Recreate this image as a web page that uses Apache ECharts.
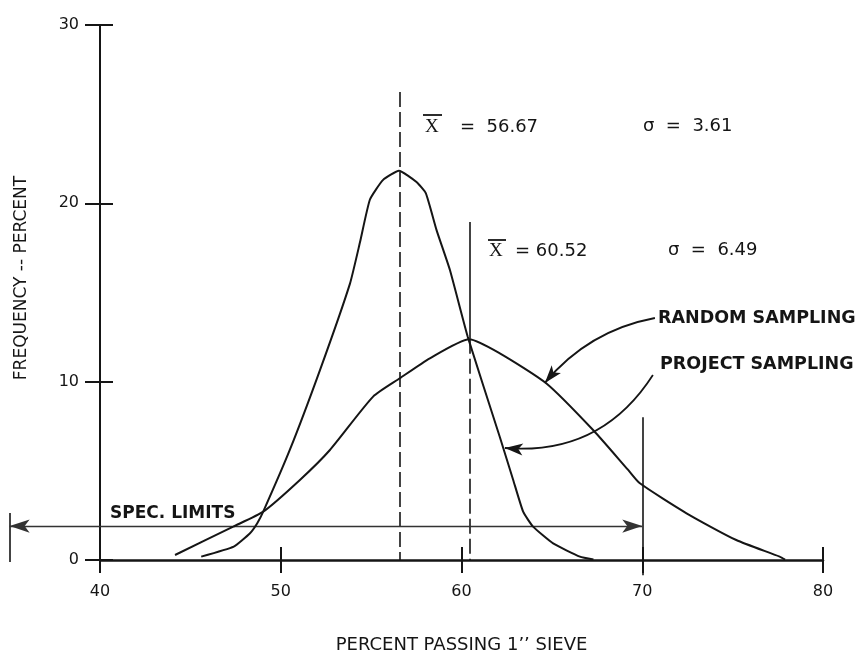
<!DOCTYPE html>
<html>
<head>
<meta charset="utf-8">
<script src="https://cdn.jsdelivr.net/npm/echarts@6/dist/echarts.min.js"></script>
<style>
  html, body { margin: 0; padding: 0; background: #fff; }
  #chart { width: 863px; height: 654px; }
</style>
</head>
<body>
<div id="chart"></div>
<script>
// ---- data ----
const xRange = [40, 80];
const yRange = [0, 30];

// project sampling (narrow curve)
const projectSampling = [
  [45.6, 0.19], [47.4, 0.75], [48.3, 1.5], [48.7, 2.06], [49.03, 2.71],
  [50.5, 6.17], [52.17, 10.65], [53.83, 15.5], [54.38, 17.8], [54.93, 20.2],
  [55.65, 21.3], [56.54, 21.83], [57.51, 21.2], [58.03, 20.56], [58.62, 18.5],
  [59.36, 16.26], [60.35, 12.5], [62.12, 6.9], [62.86, 4.49], [63.41, 2.71],
  [63.96, 1.87], [65.07, 0.93], [66.55, 0.19], [67.3, 0.03]
];

// random sampling (wide curve)
const randomSampling = [
  [44.15, 0.28], [47.37, 1.87], [49.03, 2.71], [51.06, 4.49], [52.72, 6.17],
  [55.11, 9.16], [56.59, 10.19], [58.25, 11.31], [60.43, 12.38], [62.12, 11.59],
  [64.7, 9.9], [67.28, 7.29], [69.22, 5.05], [69.87, 4.3], [72.45, 2.62],
  [75.2, 1.12], [77.6, 0.19], [77.9, 0.02]
];

const meanProject = 56.6;
const meanRandom = 60.43;
const specLimits = [35, 70];
const specY = 1.9;

const ink = "#151515";
const font = '"DejaVu Sans", sans-serif';

const chart = echarts.init(document.getElementById("chart"));

function label(text, x, y, size, weight) {
  return {
    type: "text", x: x, y: y, silent: true,
    style: {
      text: text, fill: ink,
      font: (weight || "normal") + " " + size + "px " + font,
      textAlign: "left", textVerticalAlign: "middle",
      align: "left", verticalAlign: "middle"
    }
  };
}
function bar(x1, x2, y) {
  return { type: "line", silent: true, shape: { x1: x1, y1: y, x2: x2, y2: y },
           style: { stroke: ink, lineWidth: 1.8 } };
}
function xbar(x, y) {
  return {
    type: "text", x: x, y: y, silent: true,
    style: { text: "X", fill: ink, font: '19px "Liberation Serif", serif',
             textAlign: "left", textVerticalAlign: "middle", align: "left", verticalAlign: "middle" }
  };
}

const option = {
  animation: false,
  backgroundColor: "#fff",
  grid: { left: 100, right: 40, top: 25, bottom: 94, containLabel: false, outerBoundsMode: "none" },
  xAxis: [
    {
      type: "value", min: xRange[0], max: xRange[1], interval: 10, position: "bottom",
      axisLine: { lineStyle: { color: ink, width: 2.5 } },
      axisTick: { length: 13, lineStyle: { color: ink, width: 2 } },
      axisLabel: { margin: 24, color: ink, fontSize: 16, fontFamily: font },
      splitLine: { show: false },
      name: "PERCENT PASSING 1’’ SIEVE", nameLocation: "middle", nameGap: 76,
      nameTextStyle: { color: ink, fontSize: 18, fontFamily: font }
    },
    {
      type: "value", min: xRange[0], max: xRange[1], interval: 10, position: "bottom",
      axisLine: { show: false },
      axisTick: { inside: true, length: 13, lineStyle: { color: ink, width: 2 } },
      axisLabel: { show: false }, splitLine: { show: false }
    }
  ],
  yAxis: [
    {
      type: "value", min: yRange[0], max: yRange[1], interval: 10, position: "left",
      axisLine: { show: true, lineStyle: { color: ink, width: 2 } },
      axisTick: { show: true, length: 15, lineStyle: { color: ink, width: 2 } },
      axisLabel: { margin: 21, color: ink, fontSize: 16, fontFamily: font },
      splitLine: { show: false }
    },
    {
      type: "value", min: yRange[0], max: yRange[1], interval: 10, position: "left",
      axisLine: { show: false },
      axisTick: { show: true, inside: true, length: 13, lineStyle: { color: ink, width: 2 } },
      axisLabel: { show: false }, splitLine: { show: false }
    }
  ],
  series: [
    {
      name: "Random sampling", type: "line", data: randomSampling,
      smooth: 0.2, showSymbol: false, lineStyle: { color: ink, width: 2 }
    },
    {
      name: "Project sampling", type: "line", data: projectSampling,
      smooth: 0.15, showSymbol: false, lineStyle: { color: ink, width: 2 }
    },
    {
      // mean lines, dashed part
      type: "lines", coordinateSystem: "cartesian2d", clip: false, silent: true,
      lineStyle: { color: ink, width: 1.6, type: [15, 5], opacity: 1 },
      data: [
        { coords: [[meanProject, 26.25], [meanProject, 0]] },
        { coords: [[meanRandom, 12.4], [meanRandom, 0]] }
      ]
    },
    {
      // solid markers: upper random mean, spec limit lines
      type: "lines", coordinateSystem: "cartesian2d", clip: false, silent: true,
      lineStyle: { color: ink, width: 1.6, opacity: 1 },
      data: [
        { coords: [[meanRandom, 18.96], [meanRandom, 12.4]] },
        { coords: [[specLimits[0], 2.64], [specLimits[0], -0.11]] },
        { coords: [[specLimits[1], 8.0], [specLimits[1], -0.85]] }
      ]
    },
    {
      // spec limits double arrow
      type: "lines", coordinateSystem: "cartesian2d", clip: false, silent: true,
      symbol: ["arrow", "arrow"], symbolSize: [[10, 20], [10, 20]],
      lineStyle: { color: "#333", width: 1.3, opacity: 1 },
      data: [{ coords: [[specLimits[0], specY], [specLimits[1], specY]] }]
    },
    {
      // label pointers
      type: "lines", coordinateSystem: "cartesian2d", clip: false, silent: true,
      symbol: ["none", "arrow"], symbolSize: [[9, 18], [9, 18]],
      lineStyle: { color: ink, width: 1.8, opacity: 1 },
      data: [
        { coords: [[70.7, 13.57], [64.61, 9.93]], lineStyle: { curveness: -0.18 } },
        { coords: [[70.59, 10.38], [62.4, 6.28]], lineStyle: { curveness: 0.3 } }
      ]
    }
  ],
  graphic: [
    {
      type: "text", x: 22, y: 278, rotation: Math.PI / 2, silent: true,
      style: { text: "FREQUENCY -- PERCENT", fill: ink, font: "17px " + font,
               textAlign: "center", textVerticalAlign: "middle", align: "center", verticalAlign: "middle" }
    },
    xbar(425, 127), bar(423, 442, 115), label("=  56.67", 460, 127, 18),
    label("σ  =  3.61", 643, 126, 18),
    xbar(489, 251), bar(488, 506, 240), label("= 60.52", 515, 251, 18),
    label("σ  =  6.49", 668, 250, 18),
    label("RANDOM SAMPLING", 658, 318, 17.5, "bold"),
    label("PROJECT SAMPLING", 660, 364, 17.5, "bold"),
    label("SPEC. LIMITS", 110, 514, 17, "bold")
  ]
};

chart.setOption(option);
window.addEventListener("resize", chart.resize);
</script>
</body>
</html>
